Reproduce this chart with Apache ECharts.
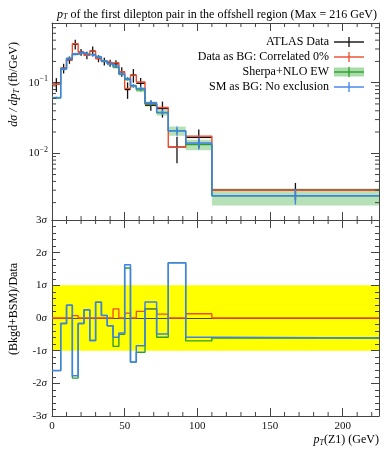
<!DOCTYPE html>
<html><head><meta charset="utf-8">
<script src="https://cdn.jsdelivr.net/npm/echarts@6/dist/echarts.min.js"></script>
<style>html,body{margin:0;padding:0;background:#fff}#c{width:392px;height:450px}</style>
</head><body><div id="c"></div>
<script>
// ---- data ----
const binEdges   = [0,6,10,14,18,22,26,30,34,38,42,46,50,54,58,64,72,80,92,110,225];
const dataVals   = [0.095,0.16,0.21,0.35,0.27,0.245,0.28,0.22,0.20,0.19,0.185,0.143,0.08,0.128,0.098,0.048,0.043,0.0122,0.0168,0.003];
const dataErr    = [0.021,0.025,0.025,0.054,0.03,0.03,0.045,0.025,0.025,0.022,0.022,0.022,0.021,0.028,0.018,0.008,0.011,0.005,0.005,0.0008];
const redVals    = [0.095,0.16,0.21,0.355,0.27,0.245,0.28,0.22,0.20,0.19,0.192,0.143,0.083,0.128,0.102,0.05,0.0445,0.0122,0.0175,0.003];
const greenVals  = [0.061,0.156,0.22,0.252,0.265,0.252,0.249,0.232,0.202,0.185,0.166,0.132,0.112,0.090,0.079,0.050,0.0375,0.0208,0.0133,0.0025];
const greenBand  = [0.04,0.04,0.04,0.04,0.04,0.04,0.04,0.04,0.04,0.05,0.05,0.05,0.06,0.06,0.07,0.08,0.09,0.15,0.17,0.27];
const blueVals   = [0.061,0.156,0.22,0.255,0.265,0.252,0.249,0.232,0.202,0.185,0.172,0.133,0.114,0.090,0.083,0.052,0.038,0.0208,0.0140,0.0025];
const blueErr    = [0.04,0.04,0.04,0.04,0.04,0.04,0.04,0.04,0.04,0.05,0.05,0.05,0.06,0.06,0.07,0.08,0.09,0.15,0.2,0.25];
const redRatio   = [0,0,0,0.07,0,0,0,0,0,0,0.28,0,0.15,0,0.2,0.28,0.12,0,0.13,0];
const greenRatio = [-1.61,-0.17,0.39,-1.84,-0.17,0.25,-0.69,0.48,0.08,-0.24,-0.87,-0.5,1.53,-1.35,-1.05,0.28,-0.59,1.69,-0.70,-0.61];
const blueRatio  = [-1.61,-0.17,0.39,-1.77,-0.17,0.25,-0.69,0.48,0.08,-0.24,-0.59,-0.46,1.63,-1.35,-0.85,0.49,-0.49,1.69,-0.59,-0.61];
const xMinorTicks   = [10,20,30,40,60,70,80,90,110,120,130,140,160,170,180,190,210,220];
const logMinorTicks = [0.002,0.003,0.004,0.005,0.006,0.007,0.008,0.009,0.02,0.03,0.04,0.05,0.06,0.07,0.08,0.09,0.2,0.3,0.4,0.5,0.6];
const sigmaBand  = [-1, 1];
const legendLabels = ['ATLAS Data','Data as BG: Correlated 0%','Sherpa+NLO EW','SM as BG: No exclusion'];
const titleText = ' of the first dilepton pair in the offshell region (Max = 216 GeV)';

// ---- styling ----
const FONT = '"Liberation Serif","DejaVu Serif",serif';
const X_MAX = 225, Y_MIN = 0.001135, Y_MAX = 0.70;
const C_BLACK = '#111', C_RED = '#ee4a2c', C_GREEN = '#2e9e2e', C_BAND = '#a9dca9', C_BLUE = '#3f80ee';
const AX = '#444';

function steps(vals){
  const d = vals.map((v,i)=>[binEdges[i], v]);
  d.push([binEdges[binEdges.length-1], vals[vals.length-1]]);
  return d;
}
function stepSeries(vals, color, xi, yi, z, w){
  return {type:'line', xAxisIndex:xi, yAxisIndex:yi, step:'end', data:steps(vals), showSymbol:false,
    symbol:'none', z:z, lineStyle:{color:color, width:w||1.4}, itemStyle:{color:color}, silent:true};
}
function crossSeries(vals, rel, color, z){
  return {type:'custom', xAxisIndex:0, yAxisIndex:0, z:z, silent:true,
    data: vals.map((v,i)=>[ (binEdges[i]+binEdges[i+1])/2, v, rel[i] ]),
    renderItem:(p,api)=>{
      const c=api.value(0), v=api.value(1), r=api.value(2);
      const t=api.coord([c, v*(1+r)]), b=api.coord([c, v*(1-r)]);
      return {type:'line', shape:{x1:t[0],y1:t[1],x2:b[0],y2:b[1]}, style:{stroke:color, lineWidth:1.3}};
    }};
}
const sub = {fontFamily:FONT, fontSize:8, fontStyle:'italic', fontWeight:'normal', color:'#000', padding:[5,0,0,0]};
const ital = {fontFamily:FONT, fontSize:12, fontStyle:'italic', fontWeight:'normal', color:'#000'};
const norm = {fontFamily:FONT, fontSize:12, fontWeight:'normal', color:'#000'};

function xAxisCfg(grid, pos, labels){
  return {type:'value', gridIndex:grid, position:pos, min:0, max:X_MAX, interval:50,
    axisLine:{show:true, onZero:false, lineStyle:{color:AX, width:1}},
    axisTick:{show:true, inside:true, length:8, lineStyle:{color:AX}},
    minorTick:{show:false}, splitLine:{show:false},
    axisLabel:{show:labels, showMaxLabel:false, fontFamily:FONT, fontSize:11, color:'#111', margin:5}};
}
function logAxisCfg(pos, labels){
  return {type:'log', logBase:10, gridIndex:0, position:pos, min:Y_MIN, max:Y_MAX,
    axisLine:{show:true, onZero:false, lineStyle:{color:AX}},
    axisTick:{show:true, inside:true, length:8, lineStyle:{color:AX}},
    splitLine:{show:false}, minorTick:{show:false},
    axisLabel:{show:labels, margin:4, showMinLabel:true, showMaxLabel:true,
      formatter:(v)=>{ const l=Math.log10(v), e=Math.round(l);
        return Math.abs(l-e)<1e-6 ? '{n|10}{s|−'+Math.abs(e)+'}' : ''; },
      rich:{n:{fontFamily:FONT,fontSize:11,color:'#111'}, s:{fontFamily:FONT,fontSize:8,color:'#111',padding:[0,0,7,0]}}}};
}
function sigAxisCfg(pos, labels){
  return {type:'value', gridIndex:1, position:pos, min:-3, max:3, interval:1,
    axisLine:{show:true, onZero:false, lineStyle:{color:AX}},
    axisTick:{show:true, inside:true, length:8, lineStyle:{color:AX}},
    minorTick:{show:true, splitNumber:5, length:4, lineStyle:{color:AX}},
    splitLine:{show:false},
    axisLabel:{show:labels, margin:5,
      formatter:(v)=>'{n|'+(v<0?'-'+(-v):v)+'}{s|σ}',
      rich:{n:{fontFamily:FONT,fontSize:11,color:'#111'}, s:{fontFamily:FONT,fontSize:11,fontStyle:'italic',color:'#111'}}}};
}
function minorTickSeries(grid, xi, yi, yLo, yHi){
  return [{type:'custom', xAxisIndex:xi, yAxisIndex:yi, silent:true, z:10,
    data: xMinorTicks.map(x=>[x]),
    renderItem:(p,api)=>{ const x=api.value(0);
      const a=api.coord([x,yLo]), b=api.coord([x,yHi]);
      return {type:'group', children:[
        {type:'line', shape:{x1:a[0],y1:a[1],x2:a[0],y2:a[1]-4}, style:{stroke:AX,lineWidth:1}},
        {type:'line', shape:{x1:b[0],y1:b[1],x2:b[0],y2:b[1]+4}, style:{stroke:AX,lineWidth:1}}]}; }}];
}

const dataItems = dataVals.map((v,i)=>[binEdges[i], binEdges[i+1], v, dataErr[i]]);
const bandItems = greenVals.map((v,i)=>[binEdges[i], binEdges[i+1], v*(1-greenBand[i]), v*(1+greenBand[i])]);

const series = [
  {type:'custom', xAxisIndex:0, yAxisIndex:0, z:1, silent:true, data:bandItems,
   renderItem:(p,api)=>{ const a=api.coord([api.value(0), api.value(3)]), b=api.coord([api.value(1), api.value(2)]);
     return {type:'rect', shape:{x:a[0], y:a[1], width:b[0]-a[0], height:b[1]-a[1]}, style:{fill:C_BAND, opacity:0.85}}; }},
  {type:'custom', xAxisIndex:0, yAxisIndex:0, z:2, silent:true, data:dataItems,
   renderItem:(p,api)=>{ const lo=api.value(0), hi=api.value(1), v=api.value(2), e=api.value(3), c=(lo+hi)/2;
     const a=api.coord([lo,v]), b=api.coord([hi,v]), t=api.coord([c,v+e]), u=api.coord([c,v-e]);
     return {type:'group', children:[
       {type:'line', shape:{x1:a[0],y1:a[1],x2:b[0],y2:b[1]}, style:{stroke:C_BLACK,lineWidth:1.4}},
       {type:'line', shape:{x1:t[0],y1:t[1],x2:u[0],y2:u[1]}, style:{stroke:C_BLACK,lineWidth:1.3}}]}; }},
  stepSeries(redVals, C_RED, 0, 0, 3),
  stepSeries(greenVals, C_GREEN, 0, 0, 4),
  crossSeries(greenVals, greenBand.map(r=>r*0.6), C_GREEN, 4),
  stepSeries(blueVals, C_BLUE, 0, 0, 5),
  crossSeries(blueVals, blueErr, C_BLUE, 5),
  {type:'custom', xAxisIndex:0, yAxisIndex:0, silent:true, z:10, data: logMinorTicks.map(v=>[0,v]),
   renderItem:(p,api)=>{ const v=api.value(1); const a=api.coord([0,v]), b=api.coord([X_MAX,v]);
     return {type:'group', children:[
       {type:'line', shape:{x1:a[0],y1:a[1],x2:a[0]+4,y2:a[1]}, style:{stroke:AX,lineWidth:1}},
       {type:'line', shape:{x1:b[0],y1:b[1],x2:b[0]-4,y2:b[1]}, style:{stroke:AX,lineWidth:1}}]}; }},
  ...minorTickSeries(0, 0, 0, Y_MIN, Y_MAX),
  {type:'line', xAxisIndex:2, yAxisIndex:2, data:[], z:0, silent:true,
   markArea:{silent:true, z:0, itemStyle:{color:'#ffff00', opacity:1}, data:[[{yAxis:sigmaBand[0]},{yAxis:sigmaBand[1]}]]},
   markLine:{silent:true, z:1, symbol:'none', label:{show:false}, lineStyle:{color:'#4a4a2a', width:1, type:'solid'}, data:[{yAxis:0}]}},
  stepSeries(redRatio, C_RED, 2, 2, 3, 1.3),
  stepSeries(greenRatio, C_GREEN, 2, 2, 4, 1.4),
  stepSeries(blueRatio, C_BLUE, 2, 2, 5, 1.5),
  ...minorTickSeries(1, 2, 2, -3, 3)
];

const legendColors = [C_BLACK, C_RED, C_GREEN, C_BLUE];
const legendY = [42, 57, 72, 87];
const graphics = [];
legendLabels.forEach((t,i)=>{
  const y = legendY[i];
  graphics.push({type:'text', x:329, y:y, style:{text:t, font:'12px '+FONT, fill:'#000', align:'right', verticalAlign:'middle'}});
  if (i===2) graphics.push({type:'rect', shape:{x:334, y:y-4.5, width:30, height:9}, style:{fill:C_BAND}});
  graphics.push({type:'line', shape:{x1:334,y1:y,x2:364,y2:y}, style:{stroke:legendColors[i], lineWidth:1.4}});
  graphics.push({type:'line', shape:{x1:349,y1:y-5,x2:349,y2:y+5}, style:{stroke:legendColors[i], lineWidth:1.3}});
});
graphics.push({type:'text', x:14, y:42, rotation:Math.PI/2,
  style:{text:'{i|dσ / dp}{s|T}{n| (fb/GeV)}', rich:{i:ital, s:sub, n:norm}, align:'right', verticalAlign:'middle', font:'12px '+FONT}});
graphics.push({type:'text', x:14, y:309, rotation:Math.PI/2,
  style:{text:'(Bkgd+BSM)/Data', font:'12px '+FONT, fill:'#000', align:'center', verticalAlign:'middle'}});
graphics.push({type:'text', x:379, y:440,
  style:{text:'{i|p}{s|T}{n|(Z1) (GeV)}', rich:{i:ital, s:sub, n:norm}, align:'right', verticalAlign:'middle', font:'12px '+FONT}});

const chart = echarts.init(document.getElementById('c'), null, {renderer:'canvas'});
chart.setOption({
  animation:false,
  backgroundColor:'#fff',
  title:{text:'{i|p}{s|T}{n|'+titleText+'}', left:52, top:3,
    textStyle:{fontWeight:'normal', fontFamily:FONT, fontSize:12, rich:{i:ital, s:sub, n:norm}}},
  grid:[{left:52, top:23, right:13, height:197}, {left:52, top:220, right:13, height:196}],
  xAxis:[xAxisCfg(0,'bottom',false), xAxisCfg(0,'top',false), xAxisCfg(1,'bottom',true), xAxisCfg(1,'top',false)],
  yAxis:[logAxisCfg('left',true), logAxisCfg('right',false), sigAxisCfg('left',true), sigAxisCfg('right',false)],
  series:series,
  graphic:graphics
});
</script>
</body></html>
